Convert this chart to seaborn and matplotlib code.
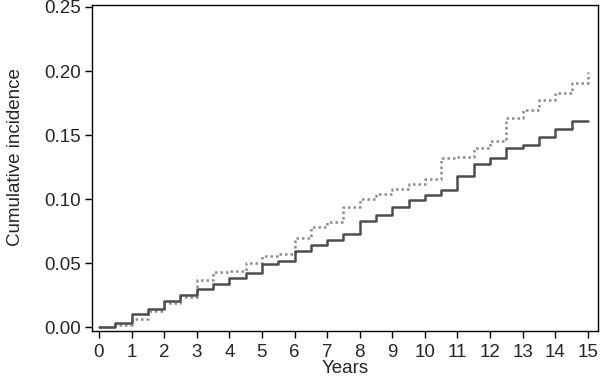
import numpy as np
import pandas as pd
import seaborn as sns
import matplotlib.pyplot as plt

# step times (years) and cumulative incidence
years = [0, 0.5, 1, 1.5, 2, 2.5, 3, 3.5, 4, 4.5, 5, 5.5, 6, 6.5, 7, 7.5,
         8, 8.5, 9, 9.5, 10, 10.5, 11, 11.5, 12, 12.5, 13, 13.5, 14, 14.5, 15]
solid_ci = [0, 0.0037, 0.0100, 0.0146, 0.0203, 0.0250, 0.0297, 0.0340,
            0.0385, 0.0427, 0.0497, 0.0520, 0.0596, 0.0640, 0.0685, 0.0730,
            0.0830, 0.0875, 0.0940, 0.0990, 0.1030, 0.1070, 0.1180, 0.1273,
            0.1320, 0.1400, 0.1420, 0.1487, 0.1550, 0.1610, 0.1610]
dotted_ci = [0, 0.0020, 0.0065, 0.0130, 0.0190, 0.0240, 0.0370, 0.0430,
             0.0440, 0.0500, 0.0555, 0.0570, 0.0700, 0.0780, 0.0820, 0.0935,
             0.0998, 0.1040, 0.1080, 0.1120, 0.1160, 0.1320, 0.1330, 0.1400,
             0.1450, 0.1630, 0.1695, 0.1770, 0.1830, 0.1910, 0.1990]

df = pd.DataFrame({"years": years, "solid": solid_ci, "dotted": dotted_ci})

sns.set_style("ticks")
plt.rcParams["font.family"] = ["Liberation Sans", "DejaVu Sans"]

fig = plt.figure(figsize=(6, 3.78), dpi=100)
ax = fig.add_axes([0.153, 0.124, 0.843, 0.863])

sns.lineplot(data=df, x="years", y="dotted", ax=ax, drawstyle="steps-post",
             color="#8c8c8c", linewidth=1.8, linestyle=(0, (1, 1.2)))
sns.lineplot(data=df, x="years", y="solid", ax=ax, drawstyle="steps-post",
             color="#4d4d4d", linewidth=1.8)

ax.set_xlim(-0.22, 15.3)
ax.set_ylim(-0.003, 0.2516)
ax.set_xticks(range(0, 16))
ax.set_yticks([0, 0.05, 0.10, 0.15, 0.20, 0.25])
ax.set_yticklabels(["0.00", "0.05", "0.10", "0.15", "0.20", "0.25"])
ax.tick_params(labelsize=13.5, length=5, width=1, color="black")
ax.tick_params(axis="x", pad=4)
ax.tick_params(axis="y", pad=3)
ax.set_xlabel("Years", fontsize=13.5, labelpad=-0.5)
ax.set_ylabel("Cumulative incidence", fontsize=13.5, labelpad=14)
ax.yaxis.label.set_y(0.535)
for s in ax.spines.values():
    s.set_color("black")
    s.set_linewidth(1)

fig.savefig("out.png", dpi=100)
